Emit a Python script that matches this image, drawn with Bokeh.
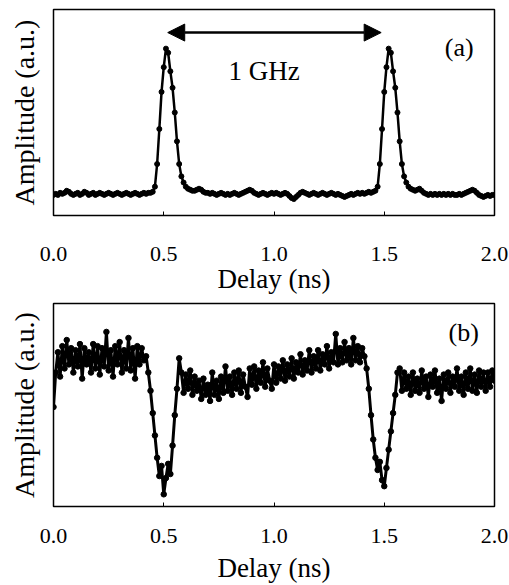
import numpy as np
from bokeh.plotting import figure
from bokeh.layouts import column
from bokeh.models import Range1d, FixedTicker, Arrow, NormalHead, Label
from bokeh.embed import file_html
from bokeh.resources import INLINE

# ---- data ----
delay = [round(i * 0.01, 2) for i in range(201)]  # sampling grid, 0.00 .. 2.00 ns

amp_a = [
    # 0.00-0.44
    0.10, 0.105, 0.10, 0.11, 0.105, 0.11, 0.12, 0.115, 0.105, 0.10,
    0.105, 0.11, 0.10, 0.105, 0.115, 0.11, 0.10, 0.105, 0.11, 0.10,
    0.105, 0.11, 0.105, 0.10, 0.105, 0.11, 0.105, 0.10, 0.105, 0.11,
    0.105, 0.10, 0.105, 0.11, 0.105, 0.10, 0.105, 0.11, 0.105, 0.10,
    0.105, 0.11, 0.105, 0.11, 0.11,
    # 0.45-0.63 peak
    0.115, 0.14, 0.25, 0.42, 0.60, 0.72, 0.81, 0.79, 0.70, 0.62,
    0.50, 0.36, 0.25, 0.19, 0.16, 0.14, 0.13, 0.125, 0.12,
    # 0.64-1.45
    0.12, 0.125, 0.13, 0.125, 0.115, 0.11,
    0.11, 0.105, 0.11, 0.105, 0.10, 0.105, 0.11, 0.105, 0.10, 0.105,
    0.10, 0.105, 0.11, 0.105, 0.10, 0.105, 0.11, 0.115, 0.12, 0.125,
    0.12, 0.11, 0.105, 0.10, 0.105, 0.11, 0.105, 0.10, 0.105, 0.11,
    0.105, 0.11, 0.105, 0.10, 0.105, 0.11, 0.105, 0.095, 0.085, 0.08,
    0.09, 0.10, 0.11, 0.115, 0.11, 0.105, 0.10, 0.105, 0.11, 0.105,
    0.10, 0.105, 0.11, 0.105, 0.10, 0.105, 0.11, 0.105, 0.10, 0.105,
    0.10, 0.095, 0.09, 0.095, 0.10, 0.105, 0.10, 0.105, 0.11, 0.105,
    0.11, 0.105, 0.11, 0.115, 0.11, 0.115,
    # 1.46-1.64 peak
    0.12, 0.14, 0.25, 0.42, 0.60, 0.72, 0.81, 0.79, 0.70, 0.62,
    0.50, 0.36, 0.25, 0.19, 0.16, 0.14, 0.13, 0.125, 0.12,
    # 1.65-2.00
    0.125, 0.13, 0.12, 0.11, 0.105,
    0.10, 0.105, 0.10, 0.105, 0.10, 0.105, 0.10, 0.105, 0.10, 0.105,
    0.10, 0.105, 0.10, 0.10, 0.105, 0.10, 0.105, 0.11, 0.115, 0.12,
    0.125, 0.12, 0.11, 0.10, 0.095, 0.09, 0.095, 0.10, 0.095, 0.10, 0.10,
]

amp_b = [
    # 0.00-0.41
    0.49, 0.66, 0.76, 0.64, 0.79, 0.68, 0.82, 0.70, 0.78, 0.66,
    0.77, 0.69, 0.80, 0.63, 0.78, 0.70, 0.76, 0.66, 0.80, 0.68,
    0.79, 0.65, 0.78, 0.69, 0.86, 0.67, 0.77, 0.64, 0.79, 0.70,
    0.81, 0.66, 0.77, 0.68, 0.83, 0.67, 0.78, 0.63, 0.79, 0.70,
    0.78, 0.72,
    # 0.42-0.57 dip
    0.74, 0.66, 0.57, 0.46, 0.35, 0.24, 0.15, 0.20, 0.06, 0.14,
    0.21, 0.16, 0.30, 0.45, 0.58, 0.73,
    # 0.58-1.41
    0.66, 0.56, 0.65, 0.58, 0.67, 0.55, 0.64, 0.57, 0.62, 0.53,
    0.63, 0.55, 0.60, 0.52, 0.66, 0.55, 0.62, 0.53, 0.64, 0.56,
    0.69, 0.57, 0.64, 0.55, 0.66, 0.58, 0.67, 0.56, 0.65, 0.59,
    0.54, 0.68, 0.60, 0.69, 0.58, 0.67, 0.61, 0.71, 0.59, 0.68,
    0.62, 0.58, 0.70, 0.61, 0.69, 0.63, 0.72, 0.62, 0.70, 0.64,
    0.73, 0.63, 0.71, 0.66, 0.75, 0.65, 0.72, 0.67, 0.77, 0.66,
    0.74, 0.68, 0.77, 0.67, 0.75, 0.70, 0.79, 0.68, 0.76, 0.71,
    0.85, 0.70, 0.78, 0.71, 0.81, 0.72, 0.78, 0.70, 0.83, 0.72,
    0.79, 0.71, 0.78, 0.74,
    # 1.42-1.56 dip
    0.68, 0.58, 0.45, 0.33, 0.24, 0.18, 0.22, 0.13, 0.10, 0.19,
    0.28, 0.37, 0.46, 0.55, 0.66,
    # 1.57-2.00
    0.68, 0.57, 0.66, 0.58, 0.64, 0.55, 0.66, 0.57, 0.63, 0.56,
    0.67, 0.58, 0.64, 0.54, 0.65, 0.59, 0.67, 0.56, 0.63, 0.52,
    0.65, 0.58, 0.66, 0.56, 0.64, 0.59, 0.68, 0.57, 0.64, 0.55,
    0.66, 0.58, 0.68, 0.57, 0.65, 0.56, 0.67, 0.59, 0.66, 0.57,
    0.66, 0.59, 0.67, 0.62,
]

x_ticks = [0.0, 0.5, 1.0, 1.5, 2.0]
x_tick_labels = ["0.0", "0.5", "1.0", "1.5", "2.0"]
x_label = "Delay (ns)"
y_label = "Amplitude (a.u.)"
arrow_span = (0.518, 1.486)
arrow_level = 0.888
arrow_text = "1 GHz"

FONT = "'Liberation Serif', 'DejaVu Serif', serif"


def make_panel(y, height, top, bottom, tag, tag_x, tag_y, tick_standoff, label_standoff, lw, ms):
    p = figure(width=509, height=height, x_range=Range1d(0, 2), y_range=Range1d(0, 1),
               output_backend="svg", toolbar_location=None,
               min_border_left=53, min_border_right=15,
               min_border_top=top, min_border_bottom=bottom)
    p.xgrid.visible = False
    p.ygrid.visible = False
    p.outline_line_color = "black"
    p.outline_line_width = 1.5
    p.background_fill_color = "white"
    p.border_fill_color = "white"

    xa = p.xaxis[0]
    xa.ticker = FixedTicker(ticks=x_ticks)
    xa.major_label_overrides = {t: l for t, l in zip(x_ticks, x_tick_labels)}
    xa.minor_tick_line_color = None
    xa.major_tick_in = 4
    xa.major_tick_out = 0
    xa.major_tick_line_color = "black"
    xa.axis_line_color = None
    xa.major_label_text_font = FONT
    xa.major_label_text_font_size = "22px"
    xa.major_label_text_color = "black"
    xa.major_label_standoff = tick_standoff
    xa.axis_label = x_label
    xa.axis_label_text_font = FONT
    xa.axis_label_text_font_size = "27px"
    xa.axis_label_text_font_style = "normal"
    xa.axis_label_text_color = "black"
    xa.axis_label_standoff = label_standoff

    ya = p.yaxis[0]
    ya.ticker = FixedTicker(ticks=[])
    ya.major_tick_line_color = None
    ya.minor_tick_line_color = None
    ya.axis_line_color = None
    ya.axis_label = y_label
    ya.axis_label_text_font = FONT
    ya.axis_label_text_font_size = "28px"
    ya.axis_label_text_font_style = "normal"
    ya.axis_label_text_color = "black"
    ya.axis_label_standoff = 14

    p.line(delay, y, line_color="black", line_width=lw)
    p.scatter(delay, y, size=ms, marker="circle", fill_color="black", line_color="black")

    p.add_layout(Label(x=tag_x, y=tag_y, text=tag, text_font=FONT, text_font_size="26px",
                       text_color="black", text_align="center", text_baseline="middle"))
    return p


p1 = make_panel(amp_a, 297, 9, 82, "(a)", 1.84, 0.816, 31, 0, 2.5, 5)
p1.add_layout(Arrow(x_start=arrow_span[0], x_end=arrow_span[1], y_start=arrow_level, y_end=arrow_level,
                    line_color="black", line_width=2.5,
                    start=NormalHead(size=17, fill_color="black", line_color="black"),
                    end=NormalHead(size=17, fill_color="black", line_color="black")))
p1.add_layout(Label(x=0.955, y=0.70, text=arrow_text, text_font=FONT, text_font_size="27px",
                    text_color="black", text_align="center", text_baseline="middle"))

p2 = make_panel(amp_b, 288, 6, 79, "(b)", 1.86, 0.858, 22, 7, 3, 5.5)

layout = column(p1, p2)
open("out.html", "w").write(file_html(layout, INLINE))
